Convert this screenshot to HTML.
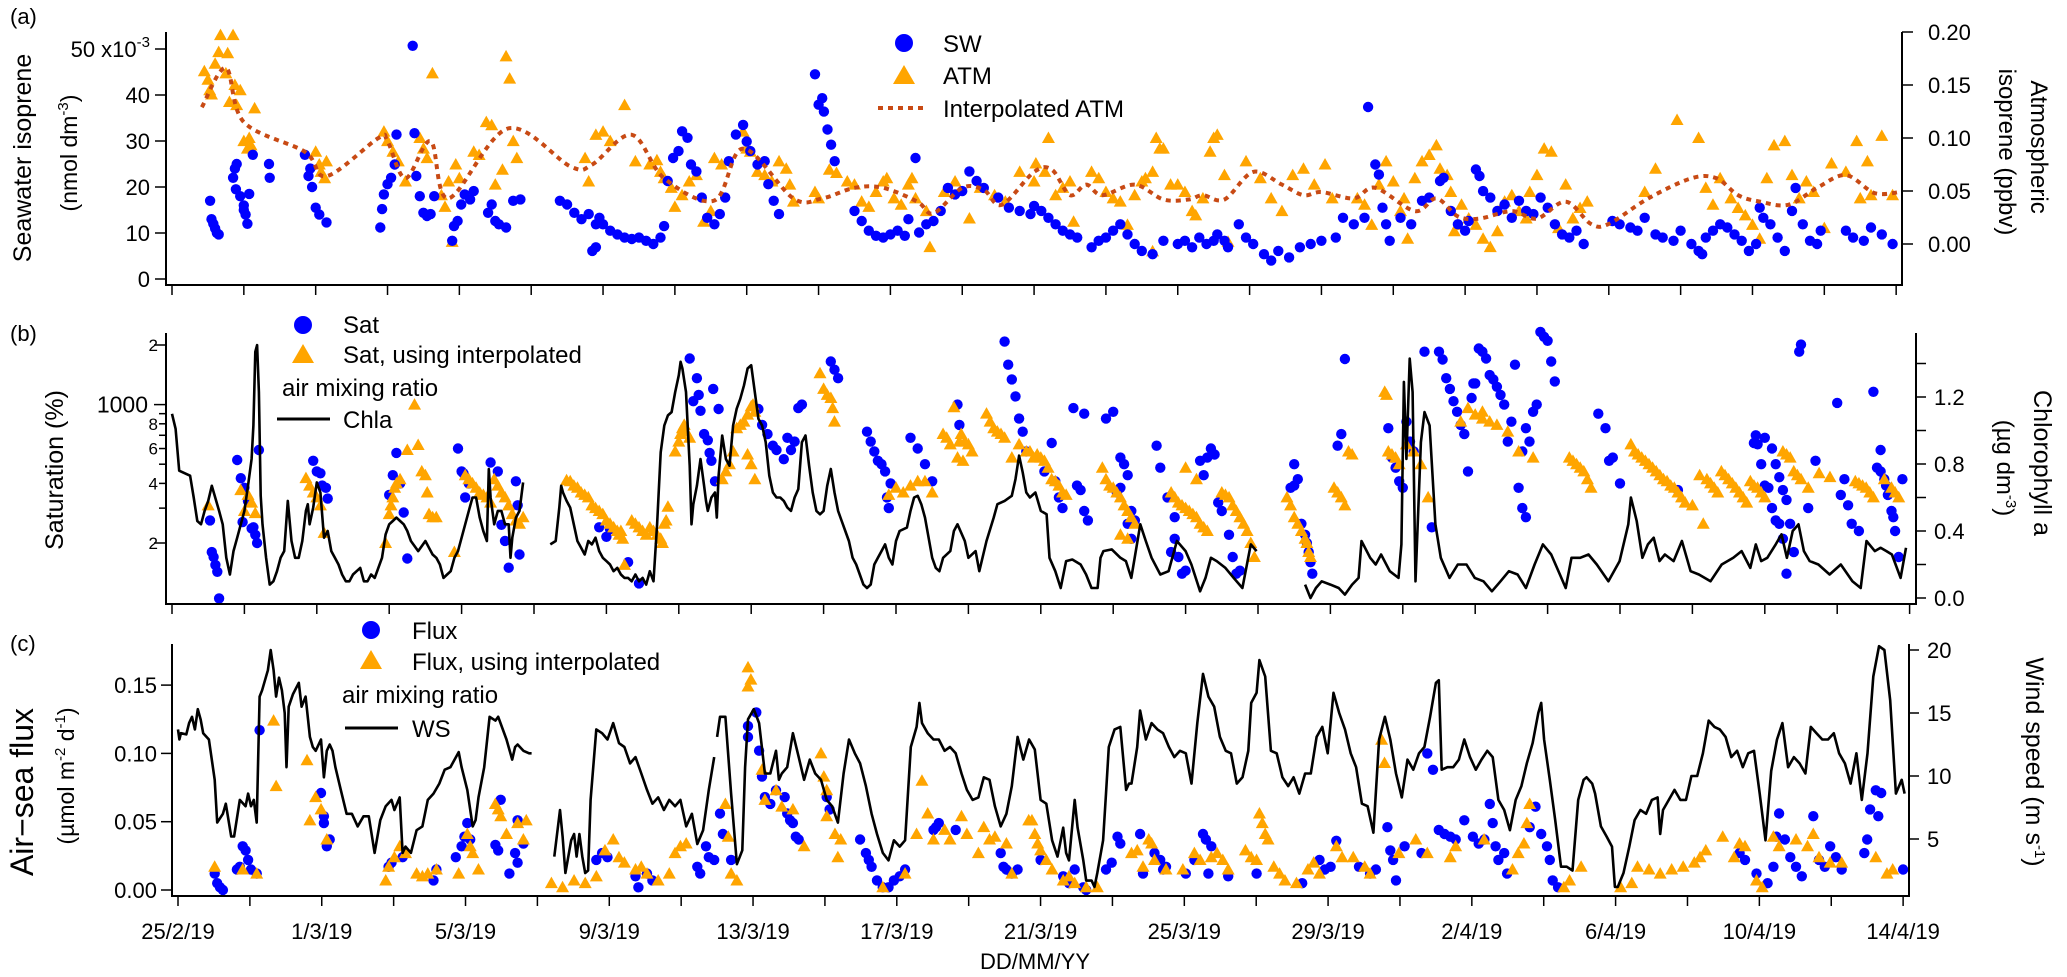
<!DOCTYPE html>
<html><head><meta charset="utf-8"><title>Isoprene time series</title>
<style>
html,body{margin:0;padding:0;background:#fff;}
svg{display:block;font-family:"Liberation Sans",Arial,sans-serif;}
</style></head>
<body>
<svg id="chart" width="2067" height="977" viewBox="0 0 2067 977" xmlns="http://www.w3.org/2000/svg">
<defs>
<clipPath id="clipA"><rect x="166" y="28" width="1736" height="257"/></clipPath>
<clipPath id="clipB"><rect x="166" y="318" width="1750" height="286"/></clipPath>
<clipPath id="clipC"><rect x="172" y="640" width="1737" height="256"/></clipPath>
</defs>
<g id="static" fill="#000" font-size="21">
<text x="10" y="24" font-size="22">(a)</text>
<text x="10" y="341" font-size="22">(b)</text>
<text x="10" y="651" font-size="22">(c)</text>

<text transform="translate(31,158) rotate(-90)" text-anchor="middle" font-size="25">Seawater isoprene</text>
<text transform="translate(77,153) rotate(-90)" text-anchor="middle" font-size="23">(nmol dm<tspan font-size="15" dy="-9">-3</tspan><tspan dy="9">)</tspan></text>
<text transform="translate(2031,147) rotate(90)" text-anchor="middle" font-size="24">Atmospheric</text>
<text transform="translate(1999,152) rotate(90)" text-anchor="middle" font-size="24">isoprene (ppbv)</text>

<text transform="translate(63,470) rotate(-90)" text-anchor="middle" font-size="25">Saturation (%)</text>
<text transform="translate(2034,463) rotate(90)" text-anchor="middle" font-size="25">Chlorophyll a</text>
<text transform="translate(1997,468) rotate(90)" text-anchor="middle" font-size="24">(µg dm<tspan font-size="15" dy="-9">-3</tspan><tspan dy="9">)</tspan></text>

<text transform="translate(33,792) rotate(-90)" text-anchor="middle" font-size="32">Air−sea flux</text>
<text transform="translate(74,776) rotate(-90)" text-anchor="middle" font-size="23">(µmol m<tspan font-size="15" dy="-9">-2</tspan><tspan dy="9"> d</tspan><tspan font-size="15" dy="-9">-1</tspan><tspan dy="9">)</tspan></text>
<text transform="translate(2026,762) rotate(90)" text-anchor="middle" font-size="25">Wind speed (m s<tspan font-size="15" dy="-9">-1</tspan><tspan dy="9">)</tspan></text>

<text x="1035" y="969" text-anchor="middle" font-size="22">DD/MM/YY</text>

<g font-size="24">
<circle cx="904" cy="43" r="9" fill="#0000ff"/>
<text x="943" y="52">SW</text>
<polygon points="904,65 915,84 893,84" fill="#ffa500"/>
<text x="943" y="84">ATM</text>
<line x1="878" y1="108" x2="928" y2="108" stroke="#c84a14" stroke-width="4" stroke-dasharray="5,5"/>
<text x="943" y="117">Interpolated ATM</text>
</g>
<g font-size="24">
<circle cx="303" cy="325" r="9" fill="#0000ff"/>
<text x="343" y="333">Sat</text>
<polygon points="303,344 314,363 292,363" fill="#ffa500"/>
<text x="343" y="363">Sat, using interpolated</text>
<text x="282" y="396">air mixing ratio</text>
<line x1="277" y1="419" x2="330" y2="419" stroke="#000" stroke-width="3"/>
<text x="343" y="428">Chla</text>
</g>
<g font-size="24">
<circle cx="371" cy="630" r="9" fill="#0000ff"/>
<text x="412" y="639">Flux</text>
<polygon points="371,650 382,669 360,669" fill="#ffa500"/>
<text x="412" y="670">Flux, using interpolated</text>
<text x="342" y="703">air mixing ratio</text>
<line x1="345" y1="728" x2="398" y2="728" stroke="#000" stroke-width="3"/>
<text x="412" y="737">WS</text>
</g>
</g>
<g id="dyn"></g>
</svg>
<script>
// ---------- Panel (a) data ----------
const swPoints = [[1.06,17],[1.1,13],[1.15,12],[1.2,11],[1.25,10],[1.3,9.7],[1.7,22],[1.75,24],[1.8,25],[1.78,19.5],[1.9,18],[2.0,16],[2.05,14],[2.1,12],[2.15,18.5],[2.25,27],[2.0,15],[2.7,25],[2.72,22],[3.7,27],[3.85,24],[3.9,20],[4.0,15.5],[4.1,14],[4.3,12.3],[3.8,22.4],[5.8,11.2],[5.85,15.2],[5.9,18.4],[6.0,20.6],[6.1,22],[6.2,24.9],[6.25,31.4],[6.7,50.7],[6.75,31.7],[6.8,22.4],[6.9,18],[7.0,14.4],[7.1,13.7],[7.2,14.1],[7.3,18],[7.8,8.3],[7.85,11.5],[7.95,12.6],[8.05,16.2],[8.15,18.4],[8.3,17.3],[8.4,19.1],[8.8,14.4],[8.9,16.2],[9.0,12.6],[9.1,11.9],[9.3,11.2],[9.5,17],[9.7,17.3],[10.8,17],[11.0,16.2],[11.2,14.4],[11.4,13],[11.6,14.1],[11.8,11.9],[11.9,13.3],[12.0,11.9],[12.2,10.5],[12.4,9.7],[12.6,9.0],[12.8,8.7],[13.0,9.0],[13.2,8.3],[13.4,7.6],[13.6,9.0],[13.7,11.5],[11.7,6.1],[11.8,6.9],[13.8,21.3],[13.95,26.3],[14.1,27.8],[14.2,32.1],[14.35,30.7],[14.45,24.9],[14.6,23.4],[14.75,17.7],[14.9,13.3],[15.1,11.9],[15.25,14.1],[15.4,17.7],[15.5,25.6],[15.7,31.4],[15.9,33.5],[16.0,29.9],[16.1,27.8],[16.3,24.9],[16.5,25.6],[16.6,20.6],[16.75,17],[16.9,14.1],[17.9,44.5],[18.0,37.9],[18.1,39.3],[18.15,36.4],[18.25,32.5],[18.35,29.2],[18.45,25.6],[19.0,14.8],[19.2,12.6],[19.4,10.5],[19.6,9.4],[19.8,9.0],[20.0,9.7],[20.2,10.5],[20.4,9.4],[20.5,13],[20.7,26.3],[20.8,10.1],[21.0,11.9],[21.2,12.6],[21.4,14.8],[21.6,19.8],[21.8,18.4],[22.0,19.1],[22.2,23.4],[22.4,21.3],[22.6,19.8],[23.0,17.7],[23.3,15.5],[23.6,14.8],[23.9,14.1],[24.0,15.9],[24.2,14.8],[24.4,13.3],[24.6,11.9],[24.8,10.5],[25.0,9.7],[25.2,9.0],[25.6,6.9],[25.8,8.3],[26.0,9.0],[26.2,10.5],[26.4,11.9],[26.6,9.7],[26.8,7.6],[27.0,6.1],[27.3,5.4],[27.6,8.3],[28.0,7.6],[28.2,8.3],[28.4,6.9],[28.6,9.0],[28.8,7.6],[29.0,8.3],[29.1,9.7],[29.3,8.3],[29.4,6.9],[29.7,11.9],[29.9,9.0],[30.1,7.6],[30.4,5.4],[30.6,4.0],[30.8,6.1],[31.1,4.7],[31.4,6.9],[31.7,7.6],[32.0,8.3],[32.4,9.0],[32.6,13.3],[32.9,11.9],[33.2,13.3],[33.3,37.4],[33.5,24.9],[33.6,22.7],[33.7,15.5],[33.8,11.9],[33.9,8.3],[34.2,13.3],[34.5,11.9],[34.8,17],[35.0,17.7],[35.3,21.3],[35.4,22],[35.6,14.8],[35.8,11.9],[36.0,10.5],[36.1,12.6],[36.3,23.8],[36.4,22.4],[36.5,19.1],[36.7,17.7],[36.9,14.8],[37.1,16.2],[37.3,13.3],[37.5,17],[37.7,14.8],[37.9,14.1],[38.1,17.7],[38.3,15.5],[38.5,11.9],[38.7,9.7],[38.9,9.0],[39.1,10.5],[39.3,7.6],[40.1,12.6],[40.3,11.9],[40.6,11.2],[40.8,10.5],[41.0,13.3],[41.3,9.7],[41.5,9.0],[41.8,8.3],[42.0,10.5],[42.3,7.6],[42.5,6.1],[42.6,5.4],[42.7,9.0],[42.9,10.5],[43.1,11.9],[43.3,11.2],[43.5,9.7],[43.7,8.3],[43.9,6.1],[44.1,7.6],[44.2,15.5],[44.3,13.3],[44.5,11.9],[44.7,9.0],[44.9,6.1],[45.1,14.8],[45.2,19.8],[45.4,11.9],[45.6,8.3],[45.8,7.6],[45.9,10.5],[46.6,10.5],[46.8,9.0],[47.1,8.3],[47.3,11.2],[47.6,9.7],[47.9,7.6]];
const atmPoints = [[0.9,.163],[1.0,.155],[1.05,.145],[1.1,.141],[1.2,.170],[1.3,.181],[1.35,.197],[1.5,.161],[1.55,.180],[1.6,.134],[1.7,.197],[1.75,.150],[1.8,.131],[1.9,.145],[2.0,.097],[2.1,.090],[2.15,.100],[2.2,.093],[2.3,.128],[4.0,.087],[4.1,.075],[4.15,.068],[4.25,.062],[4.3,.078],[5.9,.106],[6.0,.097],[6.15,.087],[6.3,.078],[6.5,.059],[6.9,.100],[7.0,.090],[7.1,.081],[7.25,.161],[7.5,.046],[7.6,.035],[7.7,.059],[7.8,.002],[7.9,.075],[8.0,.062],[8.4,.087],[8.55,.084],[8.75,.115],[8.9,.112],[9.0,.056],[9.2,.070],[9.3,.177],[9.4,.156],[9.5,.097],[9.6,.081],[11.5,.081],[11.6,.059],[11.8,.103],[12.0,.106],[12.2,.097],[12.6,.131],[12.9,.078],[13.3,.075],[13.5,.079],[13.6,.068],[13.7,.062],[13.9,.053],[14.0,.035],[14.2,.046],[14.4,.059],[14.6,.065],[14.8,.021],[15.0,.031],[15.1,.081],[15.3,.075],[15.9,.106],[16.0,.090],[16.1,.087],[16.3,.068],[16.5,.065],[16.7,.059],[16.9,.078],[17.1,.071],[17.2,.056],[17.3,.040],[17.9,.049],[18.0,.043],[18.3,.070],[18.5,.067],[18.8,.059],[19.0,.056],[19.2,.040],[19.4,.035],[19.6,.049],[19.8,.059],[19.9,.062],[20.1,.043],[20.3,.037],[20.5,.056],[20.6,.062],[20.7,.043],[21.0,.031],[21.1,-.003],[21.5,.049],[21.8,.059],[22.2,.024],[22.5,.053],[22.9,.046],[23.2,.040],[23.6,.068],[24.0,.059],[24.05,.076],[24.3,.068],[24.4,.100],[24.6,.046],[24.8,.053],[25.0,.059],[25.1,.021],[25.6,.068],[25.8,.062],[26.0,.049],[26.2,.043],[26.4,.040],[26.6,.018],[26.8,.046],[27.0,.059],[27.1,.062],[27.3,.068],[27.4,.100],[27.5,.090],[27.6,.090],[27.3,-.007],[27.8,.056],[28.0,.056],[28.2,.049],[28.4,.031],[28.5,.027],[28.7,.043],[28.9,.087],[29.0,.100],[29.1,.103],[29.3,.065],[29.4,.002],[29.9,.078],[30.3,.062],[30.6,.043],[30.9,.031],[31.2,.065],[31.5,.071],[31.8,.056],[32.1,.075],[32.3,.043],[33.0,.043],[33.2,.037],[33.4,.018],[33.6,.056],[33.8,.078],[34.0,.059],[34.2,.031],[34.3,.043],[34.4,.005],[34.6,.062],[34.8,.078],[35.0,.084],[35.2,.093],[35.3,.071],[35.5,.065],[35.6,.049],[35.7,.012],[35.8,.018],[35.9,.037],[36.1,.024],[36.3,.018],[36.5,.005],[36.7,-.003],[36.9,.012],[37.1,.040],[37.3,.046],[37.5,.031],[37.7,.024],[37.8,.049],[38.0,.065],[38.2,.090],[38.4,.087],[38.6,.015],[38.8,.056],[39.0,.024],[39.2,.034],[39.4,.040],[41.0,.049],[41.3,.071],[41.9,.117],[42.5,.100],[42.7,.053],[42.9,.037],[43.1,.062],[43.4,.043],[43.6,.034],[43.8,.027],[44.0,.018],[44.2,.005],[44.4,.062],[44.6,.093],[44.9,.097],[45.1,.065],[45.3,.043],[45.5,.059],[45.7,.049],[46.0,.015],[46.2,.076],[46.6,.068],[46.9,.097],[47.0,.043],[47.2,.078],[47.3,.046],[47.6,.102],[47.9,.046]];
const interpPoints = [[0.83,.129],[1.5,.166],[2.0,.115],[3.7,.087],[4.3,.064],[5.75,.100],[6.0,.097],[6.5,.062],[7.2,.097],[7.7,.043],[9.35,.109],[11.1,.073],[11.7,.075],[12.8,.103],[13.7,.062],[15.1,.041],[15.9,.090],[17.3,.043],[18.1,.043],[19.0,.053],[19.8,.053],[20.75,.040],[21.2,.029],[22.0,.053],[22.6,.051],[23.1,.037],[24.0,.068],[24.5,.070],[25.0,.046],[25.45,.056],[25.9,.046],[26.8,.056],[27.6,.042],[28.3,.042],[28.7,.046],[29.3,.042],[30.1,.068],[30.9,.056],[31.5,.046],[32.0,.049],[32.9,.043],[33.5,.053],[34.6,.031],[35.2,.043],[35.8,.026],[36.4,.024],[37.3,.031],[38.0,.024],[38.8,.040],[39.5,.019],[40.0,.019],[41.1,.043],[42.3,.062],[43.0,.062],[43.6,.046],[44.2,.040],[45.0,.037],[45.8,.053],[46.6,.065],[47.4,.048],[48.1,.049]];
const swTicks = [0,10,20,30,40,50];
const atmTicks = [0,0.05,0.10,0.15,0.20];
const atmTickLabels = ["0.00","0.05","0.10","0.15","0.20"];

// ---------- Panel (b) data ----------
const satPoints = [[1.05,260],[1.1,180],[1.15,170],[1.2,155],[1.25,143],[1.3,105],[1.8,525],[1.9,425],[2.0,380],[2.1,325],[1.95,255],[2.2,237],[2.25,240],[2.3,220],[2.35,200],[2.4,590],[3.9,520],[4.0,460],[4.1,450],[4.15,390],[4.25,380],[4.3,335],[6.0,350],[6.1,440],[6.2,570],[6.3,400],[6.4,285],[6.5,167],[7.9,600],[8.0,460],[8.05,450],[8.1,340],[8.2,400],[8.8,510],[9.0,460],[9.1,247],[9.2,205],[9.3,150],[9.5,410],[9.55,310],[9.6,175],[11.8,240],[12.0,215],[12.1,235],[12.6,160],[12.9,125],[14.3,1710],[14.5,1360],[14.55,1120],[14.4,1040],[14.6,930],[14.7,710],[14.8,660],[14.85,570],[14.9,520],[15.0,410],[14.95,1200],[15.1,950],[16.2,950],[16.3,790],[16.45,710],[16.6,620],[16.7,590],[16.9,530],[17.0,680],[17.1,590],[17.2,650],[17.3,960],[17.4,1000],[18.2,1650],[18.3,1500],[18.4,1360],[19.2,730],[19.3,650],[19.4,580],[19.5,520],[19.6,500],[19.7,460],[19.75,340],[19.8,300],[19.85,400],[20.4,680],[20.6,600],[20.8,500],[21.0,410],[21.7,1000],[21.75,790],[23.0,2080],[23.1,1590],[23.2,1340],[23.3,1100],[23.4,850],[23.5,730],[23.6,580],[24.1,460],[24.3,640],[24.4,410],[24.5,340],[24.6,300],[24.9,960],[25.2,900],[25.0,390],[25.1,370],[25.2,290],[25.3,260],[25.8,850],[26.0,920],[26.2,540],[26.3,500],[26.4,440],[26.5,290],[26.6,260],[26.4,250],[26.5,210],[26.1,360],[26.2,380],[27.2,620],[27.3,480],[27.5,340],[27.7,270],[27.8,170],[27.9,140],[28.0,145],[27.6,180],[27.7,210],[28.4,520],[28.5,440],[28.6,540],[28.7,600],[28.8,560],[28.9,320],[29.0,290],[29.2,220],[29.3,170],[29.4,140],[29.5,145],[30.9,380],[31.0,500],[31.1,420],[31.2,250],[31.3,220],[31.35,200],[31.4,180],[31.45,160],[31.5,140],[31.0,390],[32.2,620],[32.3,710],[32.4,1700],[33.6,760],[33.7,540],[33.8,480],[33.9,410],[34.0,380],[34.1,820],[34.2,650],[34.3,580],[34.6,1850],[35.0,1850],[35.1,1690],[35.2,1360],[35.3,1200],[35.4,1040],[35.5,920],[35.6,790],[35.7,710],[35.8,460],[35.9,1080],[35.95,1280],[36.0,1280],[34.8,240],[36.1,1920],[36.2,1850],[36.3,1710],[36.4,1410],[36.5,1340],[36.6,1230],[36.7,1120],[36.8,1000],[36.9,650],[37.0,820],[37.1,1590],[37.8,2330],[37.9,2200],[38.0,2100],[38.1,1650],[38.2,1310],[37.7,1000],[37.6,920],[37.5,650],[37.4,760],[37.3,580],[37.2,380],[37.3,300],[37.4,270],[39.4,900],[39.6,760],[39.7,520],[39.8,540],[40.0,400],[41.6,370],[43.7,640],[43.8,630],[43.9,500],[44.0,390],[44.1,380],[44.2,300],[44.3,260],[44.4,250],[44.5,210],[44.6,140],[43.75,700],[44.0,680],[44.2,600],[44.3,500],[44.4,430],[44.5,370],[44.6,330],[44.7,250],[44.8,180],[44.95,1850],[45.0,2010],[45.2,300],[45.4,520],[46.0,1020],[46.1,350],[46.2,420],[46.3,310],[46.4,250],[46.6,230],[47.0,1160],[47.1,480],[47.2,460],[47.3,420],[47.35,390],[47.4,350],[47.5,290],[47.55,270],[47.6,230],[47.7,170],[47.2,590],[47.8,420]];
const satInterpPoints = [[1.0,310],[1.9,370],[2.0,290],[2.1,350],[2.2,320],[2.3,283],[3.7,425],[3.8,390],[3.9,360],[4.0,340],[4.1,310],[4.2,225],[5.9,200],[6.0,280],[6.05,310],[6.1,340],[6.15,380],[6.2,400],[6.3,420],[6.5,590],[6.8,625],[6.9,460],[7.0,440],[7.05,360],[7.1,280],[7.2,270],[7.3,270],[6.7,1000],[7.8,180],[8.1,440],[8.2,420],[8.3,400],[8.4,380],[8.5,360],[8.6,350],[8.7,340],[8.8,320],[8.9,420],[9.0,390],[9.1,360],[9.2,340],[9.3,310],[9.4,280],[9.5,260],[9.6,250],[9.7,270],[10.9,415],[11.0,410],[11.1,390],[11.2,380],[11.3,360],[11.4,350],[11.5,340],[11.6,310],[11.7,300],[11.8,290],[11.9,280],[12.0,260],[12.1,250],[12.2,240],[12.3,230],[12.35,220],[12.4,230],[12.45,210],[12.5,155],[12.7,260],[12.8,250],[12.9,240],[13.0,230],[13.1,220],[13.2,240],[13.3,230],[13.4,220],[13.5,210],[13.55,200],[13.6,250],[13.65,260],[13.7,305],[13.9,580],[14.0,650],[14.05,710],[14.1,760],[14.15,790],[14.2,730],[14.3,680],[15.2,420],[15.3,460],[15.4,500],[15.5,580],[15.6,760],[15.7,790],[15.8,820],[15.9,890],[16.0,980],[16.05,1000],[16.1,920],[15.9,560],[16.0,500],[16.1,420],[17.9,1440],[18.0,1200],[18.1,1120],[18.2,1080],[18.25,960],[18.3,820],[19.8,350],[20.0,380],[20.2,360],[20.4,390],[20.6,410],[20.8,410],[21.0,360],[21.6,970],[21.8,710],[21.9,650],[22.0,630],[22.1,580],[21.3,710],[21.4,680],[21.5,630],[21.7,540],[21.75,650],[21.85,520],[22.5,900],[22.6,820],[22.7,760],[22.8,730],[22.9,710],[23.0,680],[23.2,540],[23.4,630],[23.6,580],[23.8,540],[23.7,580],[23.9,560],[24.0,540],[24.1,520],[24.2,480],[24.3,420],[24.4,410],[24.5,390],[24.6,360],[24.7,350],[25.7,480],[25.8,420],[25.9,390],[26.0,380],[26.1,360],[26.2,340],[26.3,310],[26.4,290],[26.5,270],[26.6,250],[26.2,220],[26.4,210],[27.6,360],[27.7,340],[27.8,320],[27.9,310],[28.0,300],[28.1,290],[28.2,280],[28.3,270],[28.4,250],[28.5,240],[28.6,230],[28.0,480],[28.3,420],[29.0,360],[29.1,350],[29.2,340],[29.3,310],[29.4,290],[29.5,270],[29.6,250],[29.7,230],[29.8,200],[29.9,170],[30.8,340],[30.9,310],[31.0,270],[31.1,250],[31.2,230],[31.3,210],[31.35,200],[31.4,180],[31.45,170],[32.1,380],[32.2,360],[32.3,340],[32.4,310],[32.5,580],[32.6,560],[33.6,580],[33.7,560],[33.8,540],[33.9,500],[33.5,1160],[33.55,1120],[34.1,630],[34.3,580],[34.5,500],[34.7,340],[35.6,820],[35.8,960],[36.0,890],[36.2,850],[36.4,820],[36.6,790],[36.2,920],[36.9,730],[37.2,580],[37.6,540],[38.6,540],[38.7,520],[38.8,500],[38.9,480],[39.0,460],[39.1,420],[39.2,380],[40.3,630],[40.4,580],[40.5,560],[40.6,540],[40.7,520],[40.8,500],[40.9,480],[41.0,460],[41.1,440],[41.2,420],[41.3,410],[41.4,390],[41.5,380],[41.6,360],[41.7,340],[41.8,320],[42.0,310],[42.3,250],[42.5,400],[42.4,420],[42.2,440],[42.6,380],[42.7,360],[42.8,460],[42.9,440],[43.0,420],[43.1,400],[43.2,380],[43.3,360],[43.4,340],[43.5,320],[43.6,410],[43.7,390],[43.8,380],[43.9,360],[44.0,340],[44.5,580],[44.6,560],[44.7,540],[44.8,460],[44.9,440],[45.0,420],[45.2,380],[45.5,450],[45.8,430],[46.5,410],[46.6,400],[46.7,390],[46.8,380],[46.9,360],[47.0,340],[47.3,420],[47.5,380],[47.6,360],[47.7,340]];
const chlaSegments = [
 [[0,1.10],[0.1,1.01],[0.2,0.76],[0.4,0.74],[0.5,0.73],[0.6,0.60],[0.7,0.46],[0.8,0.44],[0.9,0.52],[1.0,0.58],[1.1,0.67],[1.3,0.52],[1.4,0.44],[1.5,0.24],[1.6,0.14],[1.7,0.28],[1.8,0.36],[1.9,0.44],[2.0,0.52],[2.1,0.67],[2.2,0.83],[2.25,1.03],[2.3,1.47],[2.35,1.51],[2.4,1.23],[2.45,0.61],[2.5,0.44],[2.6,0.24],[2.7,0.08],[2.8,0.10],[2.9,0.16],[3.0,0.24],[3.1,0.28],[3.2,0.58],[3.3,0.34],[3.4,0.24],[3.5,0.24],[3.6,0.34],[3.7,0.52],[3.75,0.56],[3.8,0.44],[3.9,0.54],[4.0,0.69],[4.1,0.63],[4.2,0.36],[4.3,0.40],[4.4,0.28],[4.5,0.24],[4.6,0.20],[4.7,0.14],[4.8,0.10],[4.9,0.10],[5.0,0.14],[5.1,0.16],[5.2,0.18],[5.3,0.10],[5.4,0.10],[5.5,0.14],[5.6,0.12],[5.8,0.24],[5.9,0.38],[6.0,0.44],[6.1,0.46],[6.2,0.48],[6.3,0.46],[6.4,0.44],[6.5,0.40],[6.6,0.34],[6.8,0.28],[7.0,0.34],[7.1,0.30],[7.2,0.26],[7.3,0.24],[7.4,0.20],[7.5,0.12],[7.6,0.14],[7.7,0.16],[7.8,0.24],[7.9,0.28],[8.0,0.36],[8.1,0.44],[8.2,0.52],[8.3,0.60],[8.4,0.60],[8.5,0.48],[8.6,0.40],[8.7,0.34],[8.75,0.77],[8.8,0.60],[8.9,0.44],[9.0,0.52],[9.1,0.52],[9.2,0.44],[9.3,0.44],[9.35,0.24],[9.4,0.36],[9.5,0.48],[9.6,0.52],[9.7,0.69]],
 [[10.45,0.32],[10.6,0.34],[10.7,0.54],[10.75,0.67],[10.8,0.63],[10.9,0.58],[11.0,0.54],[11.1,0.44],[11.2,0.34],[11.3,0.30],[11.4,0.26],[11.5,0.34],[11.6,0.32],[11.7,0.36],[11.8,0.28],[11.9,0.24],[12.0,0.22],[12.1,0.20],[12.2,0.16],[12.3,0.18],[12.4,0.14],[12.5,0.12],[12.6,0.12],[12.7,0.10],[12.8,0.14],[12.9,0.10],[13.0,0.12],[13.1,0.08],[13.2,0.16],[13.3,0.10],[13.4,0.44],[13.5,0.87],[13.6,1.03],[13.7,1.09],[13.8,1.11],[13.9,1.23],[14.0,1.33],[14.05,1.41],[14.1,1.37],[14.2,1.23],[14.3,0.79],[14.35,0.44],[14.4,0.56],[14.5,0.67],[14.6,0.83],[14.7,0.67],[14.75,0.58],[14.8,0.52],[14.9,0.60],[15.0,0.63],[15.05,0.48],[15.1,0.73],[15.2,0.97],[15.3,0.83],[15.4,0.79],[15.5,1.03],[15.6,1.13],[15.7,1.19],[15.8,1.27],[15.9,1.37],[16.0,1.39],[16.1,1.23],[16.2,1.07],[16.3,1.03],[16.4,0.93],[16.5,0.73],[16.6,0.63],[16.7,0.60],[16.8,0.60],[16.9,0.58],[17.0,0.54],[17.1,0.52],[17.2,0.60],[17.3,0.65],[17.4,0.93],[17.5,0.97],[17.6,0.79],[17.7,0.63],[17.8,0.52],[17.9,0.50],[18.0,0.52],[18.1,0.67],[18.2,0.77],[18.3,0.63],[18.4,0.52],[18.5,0.46],[18.6,0.40],[18.7,0.34],[18.8,0.24],[18.9,0.20],[19.0,0.14],[19.1,0.08],[19.2,0.06],[19.3,0.08],[19.4,0.20],[19.5,0.24],[19.6,0.28],[19.7,0.32],[19.8,0.24],[19.9,0.20],[20.0,0.34],[20.1,0.40],[20.3,0.42],[20.4,0.52],[20.5,0.60],[20.6,0.61],[20.7,0.56],[20.8,0.48],[20.9,0.36],[21.0,0.24],[21.1,0.18],[21.2,0.16],[21.3,0.24],[21.5,0.28],[21.6,0.40],[21.7,0.44],[21.9,0.34],[22.0,0.24],[22.2,0.28],[22.3,0.16],[22.5,0.34],[22.7,0.48],[22.8,0.56],[23.0,0.58],[23.2,0.61],[23.3,0.71],[23.4,0.85],[23.5,0.75],[23.6,0.63],[23.7,0.60],[23.85,0.63],[24.0,0.52],[24.16,0.50],[24.24,0.24],[24.4,0.16],[24.55,0.06],[24.7,0.22],[24.87,0.23],[25.1,0.20],[25.25,0.14],[25.4,0.06],[25.57,0.06],[25.65,0.24],[25.73,0.28],[25.96,0.29],[26.2,0.24],[26.35,0.22],[26.5,0.12],[26.75,0.44],[26.9,0.34],[27.06,0.24],[27.3,0.14],[27.53,0.16],[27.76,0.34],[28.0,0.28],[28.16,0.20],[28.4,0.04],[28.55,0.12],[28.7,0.24],[28.86,0.22],[29.1,0.18],[29.33,0.12],[29.57,0.06],[29.8,0.32],[29.96,0.28]],
 [[31.3,0.08],[31.45,0.0],[31.6,0.06],[31.76,0.10],[32.0,0.08],[32.23,0.06],[32.4,0.02],[32.6,0.08],[32.78,0.12],[32.86,0.34],[33.1,0.24],[33.25,0.20],[33.4,0.26],[33.64,0.16],[33.88,0.12],[33.96,0.32],[34.03,1.29],[34.1,0.83],[34.19,1.43],[34.27,1.23],[34.35,0.10],[34.5,0.93],[34.6,1.11],[34.74,1.03],[34.9,0.44],[35.05,0.24],[35.29,0.12],[35.52,0.20],[35.76,0.20],[35.99,0.12],[36.23,0.10],[36.46,0.04],[36.7,0.10],[36.93,0.16],[37.17,0.14],[37.4,0.06],[37.64,0.20],[37.87,0.32],[38.1,0.26],[38.34,0.14],[38.5,0.06],[38.66,0.24],[38.9,0.24],[39.13,0.26],[39.36,0.20],[39.68,0.10],[39.99,0.22],[40.23,0.44],[40.3,0.60],[40.46,0.46],[40.62,0.24],[40.77,0.32],[40.93,0.36],[41.09,0.22],[41.24,0.26],[41.48,0.22],[41.71,0.34],[41.95,0.16],[42.18,0.14],[42.5,0.10],[42.81,0.20],[43.13,0.24],[43.36,0.28],[43.6,0.18],[43.75,0.32],[43.9,0.22],[44.07,0.24],[44.3,0.32],[44.46,0.38],[44.61,0.24],[44.77,0.40],[44.93,0.44],[45.08,0.28],[45.24,0.22],[45.48,0.20],[45.79,0.14],[46.1,0.20],[46.42,0.10],[46.65,0.06],[46.81,0.34],[47.04,0.28],[47.2,0.30],[47.36,0.28],[47.51,0.26],[47.75,0.12],[47.9,0.30]]
];
const satMajorTicks = [200,1000,2000];
const satMajorLabels = ["2","1000","2"];
const satMinorTicks = [300,400,500,600,700,800,900];
const satMinorLabels = ["","4","","6","","8",""];
const chlaTicks = [0,0.2,0.4,0.6,0.8,1.0,1.2,1.4];
const chlaTickLabels = ["0.0","","0.4","","0.8","","1.2",""];

// ---------- Panel (c) data ----------
const fluxPoints = [[1.02,.012],[1.09,.005],[1.17,.002],[1.25,0],[1.64,.015],[1.72,.017],[1.8,.032],[1.88,.029],[1.95,.022],[2.03,.015],[2.19,.012],[2.27,.117],[3.98,.071],[4.06,.054],[4.06,.049],[4.14,.032],[4.22,.037],[5.86,.017],[5.94,.020],[6.25,.024],[7.11,.007],[7.19,.015],[7.73,.024],[7.89,.032],[7.97,.039],[8.05,.049],[8.13,.037],[8.83,.033],[8.91,.029],[8.98,.066],[9.45,.051],[9.38,.027],[9.45,.020],[9.22,.012],[9.61,.034],[11.64,.022],[11.8,.027],[11.95,.024],[12.73,.010],[12.81,.002],[13.05,.012],[13.2,.007],[14.45,.017],[14.53,.012],[14.77,.024],[14.92,.022],[14.69,.032],[15.08,.056],[15.16,.041],[15.39,.022],[15.86,.120],[15.86,.112],[16.09,.130],[16.17,.102],[16.25,.083],[16.33,.068],[16.48,.063],[16.64,.073],[16.88,.068],[16.95,.056],[17.03,.051],[17.11,.049],[17.19,.039],[17.27,.037],[18.05,.068],[18.13,.059],[18.98,.037],[19.14,.027],[19.22,.022],[19.3,.017],[19.45,.007],[19.61,.002],[19.77,.002],[19.92,.007],[20.08,.010],[20.23,.015],[21.02,.044],[21.09,.046],[21.17,.049],[21.64,.044],[22.89,.027],[22.97,.017],[23.05,.015],[23.2,.012],[23.36,.015],[24.0,.022],[24.63,.010],[24.79,.005],[24.95,.015],[25.19,.002],[25.27,0],[25.82,.015],[25.98,.020],[26.14,.039],[26.22,.034],[26.77,.041],[26.85,.012],[27.17,.027],[27.33,.022],[27.41,.015],[27.49,.017],[28.04,.012],[28.28,.022],[28.52,.041],[28.6,.037],[28.67,.012],[28.75,.032],[29.22,.010],[30.01,.012],[31.28,.005],[31.76,.022],[31.91,.015],[32.07,.017],[32.23,.036],[32.86,.017],[33.17,.012],[33.33,.015],[33.65,.046],[33.73,.029],[33.81,.022],[33.89,.007],[34.13,.032],[34.6,.027],[34.76,.100],[34.92,.088],[35.08,.044],[35.24,.041],[35.4,.039],[35.55,.037],[35.79,.051],[36.03,.039],[36.19,.034],[36.35,.037],[36.5,.063],[36.58,.049],[36.66,.032],[36.74,.022],[36.9,.027],[36.98,.012],[37.61,.046],[37.77,.061],[37.93,.041],[38.09,.032],[38.17,.022],[38.25,.007],[38.4,.002],[43.45,.027],[43.6,.022],[43.92,.012],[44.23,.005],[44.39,.017],[44.47,.039],[44.55,.056],[44.71,.037],[44.86,.024],[45.02,.017],[45.18,.010],[45.5,.054],[45.66,.022],[45.82,.017],[45.97,.032],[46.13,.024],[46.29,.015],[46.92,.027],[47.0,.037],[47.08,.059],[47.24,.073],[47.39,.071],[47.31,.054],[48.0,.015]];
const fluxInterpPoints = [[1.02,.017],[1.8,.015],[2.19,.012],[2.66,.124],[2.73,.076],[3.59,.095],[3.83,.068],[3.67,.051],[3.98,.059],[4.14,.037],[5.78,.007],[5.86,.017],[6.02,.024],[6.17,.032],[6.33,.027],[6.64,.012],[6.8,.010],[6.95,.012],[7.19,.015],[7.81,.012],[8.05,.041],[8.13,.032],[8.2,.027],[8.36,.015],[8.83,.063],[8.91,.059],[8.98,.054],[9.14,.041],[9.45,.049],[9.61,.037],[9.69,.051],[10.39,.005],[10.7,.002],[11.02,.007],[11.33,.005],[11.64,.010],[11.88,.029],[12.11,.037],[12.27,.024],[12.42,.020],[12.73,.015],[12.89,.017],[13.05,.012],[13.36,.007],[13.67,.012],[13.83,.027],[13.98,.032],[14.14,.034],[15.23,.063],[15.31,.039],[15.39,.012],[15.55,.007],[15.86,.163],[15.94,.154],[15.86,.149],[16.25,.088],[16.33,.066],[16.64,.073],[16.8,.061],[17.11,.059],[17.42,.032],[17.89,.100],[17.97,.083],[18.05,.073],[18.05,.054],[18.28,.041],[18.36,.024],[18.44,.037],[19.61,.002],[20.23,.012],[20.55,.041],[20.7,.080],[20.86,.056],[21.02,.037],[21.33,.044],[21.48,.037],[21.8,.054],[21.95,.041],[22.27,.027],[22.42,.046],[22.58,.037],[22.73,.039],[23.05,.034],[23.2,.012],[23.67,.051],[23.76,.051],[23.84,.041],[23.92,.034],[24.0,.029],[24.16,.022],[24.32,.015],[24.63,.007],[24.79,.010],[24.95,.005],[25.27,.002],[25.58,.002],[26.53,.027],[26.69,.029],[26.85,.017],[27.01,.037],[27.09,.034],[27.17,.022],[27.49,.015],[27.96,.015],[28.28,.027],[28.44,.022],[28.75,.024],[28.91,.027],[29.07,.022],[29.22,.015],[29.7,.029],[29.86,.024],[30.01,.022],[30.09,.056],[30.17,.049],[30.25,.041],[30.33,.037],[30.49,.017],[30.65,.012],[30.8,.007],[31.12,.005],[31.44,.015],[31.6,.020],[31.76,.012],[32.23,.032],[32.39,.024],[32.7,.024],[33.02,.017],[33.17,.012],[33.49,.110],[33.57,.093],[33.97,.027],[34.44,.037],[34.76,.027],[35.4,.024],[35.55,.032],[36.34,.037],[37.13,.015],[37.29,.027],[37.45,.034],[37.53,.049],[37.61,.063],[38.56,.002],[38.72,.007],[39.04,.017],[40.14,.002],[40.45,.005],[40.61,.017],[40.93,.015],[41.24,.012],[41.56,.015],[41.88,.017],[42.19,.020],[42.35,.024],[42.51,.029],[42.98,.039],[43.3,.024],[43.45,.034],[43.6,.032],[43.92,.007],[44.08,.002],[44.39,.039],[44.55,.032],[45.02,.037],[45.34,.032],[45.5,.041],[45.66,.024],[45.97,.020],[46.29,.020],[47.24,.024],[47.55,.012],[47.71,.015]];
const wsSegments = [
 [[0,13.7],[0.04,12.9],[0.08,13.4],[0.23,13.3],[0.31,14.2],[0.39,14.7],[0.47,13.7],[0.55,15.3],[0.63,14.5],[0.7,13.4],[0.86,12.9],[1.02,9.7],[1.09,6.3],[1.25,7.0],[1.33,7.8],[1.48,5.2],[1.56,5.2],[1.72,8.1],[1.88,7.6],[1.95,8.6],[2.03,7.6],[2.11,8.1],[2.19,6.3],[2.27,16.3],[2.34,16.8],[2.5,18.4],[2.58,20.0],[2.66,18.4],[2.73,16.3],[2.81,17.8],[2.89,16.8],[2.97,15.0],[3.02,10.7],[3.08,15.5],[3.2,16.5],[3.36,17.4],[3.44,15.5],[3.55,16.3],[3.67,13.1],[3.75,12.3],[3.83,12.0],[3.98,12.9],[4.06,9.9],[4.14,12.0],[4.22,12.5],[4.3,12.0],[4.38,10.7],[4.53,8.9],[4.69,7.0],[4.84,7.0],[5.0,6.0],[5.16,6.8],[5.31,6.8],[5.47,3.9],[5.63,6.5],[5.78,7.6],[5.94,8.1],[6.02,7.3],[6.17,8.3],[6.25,3.9],[6.33,4.4],[6.48,3.9],[6.64,5.7],[6.8,6.0],[6.95,8.1],[7.11,8.6],[7.27,9.4],[7.42,10.5],[7.58,10.7],[7.81,11.9],[7.89,10.7],[8.05,8.9],[8.2,6.0],[8.28,6.5],[8.36,8.3],[8.52,10.7],[8.67,14.7],[8.83,14.4],[8.91,14.7],[9.14,12.9],[9.3,11.3],[9.38,12.3],[9.45,12.5],[9.61,12.0],[9.77,11.8],[9.84,11.8]],
 [[10.47,3.6],[10.63,7.3],[10.7,5.2],[10.78,2.3],[10.94,4.9],[11.02,5.4],[11.09,3.6],[11.17,5.4],[11.25,3.6],[11.33,2.3],[11.41,2.5],[11.48,8.1],[11.64,13.7],[11.8,13.4],[11.95,12.9],[12.11,14.2],[12.27,12.6],[12.42,12.3],[12.58,11.0],[12.73,11.5],[12.89,10.2],[13.05,8.9],[13.2,7.8],[13.36,8.3],[13.52,7.3],[13.67,8.1],[13.83,7.6],[13.98,8.1],[14.14,6.0],[14.3,7.0],[14.45,4.6],[14.61,5.7],[14.77,8.9],[14.92,11.5]],
 [[15.0,13.1],[15.08,14.7],[15.23,14.7],[15.39,8.6],[15.55,3.0],[15.7,4.1],[15.78,10.7],[15.86,14.5],[16.02,15.3],[16.17,14.2],[16.33,10.2],[16.48,10.2],[16.64,12.0],[16.72,9.7],[16.8,10.2],[16.95,10.7],[17.11,13.4],[17.27,11.5],[17.42,9.7],[17.58,11.3],[17.73,10.2],[17.89,9.7],[18.05,8.1],[18.2,7.6],[18.36,6.3],[18.52,10.2],[18.67,12.9],[18.83,11.8],[18.98,11.0],[19.14,9.2],[19.3,7.0],[19.45,5.4],[19.61,3.9],[19.77,3.3],[19.92,4.9],[20.08,4.4],[20.23,4.9],[20.39,12.3],[20.55,13.9],[20.63,15.8],[20.7,14.2],[20.86,13.4],[21.02,12.9],[21.17,12.9],[21.33,12.0],[21.48,12.3],[21.64,11.8],[21.8,10.2],[21.95,8.9],[22.11,8.1],[22.27,8.3],[22.42,9.9],[22.58,9.7],[22.73,7.6],[22.89,6.0],[23.05,7.0],[23.2,9.2],[23.36,13.1],[23.52,11.3],[23.68,12.9],[23.84,12.1],[24.0,8.1],[24.16,7.8],[24.32,4.9],[24.47,3.6],[24.63,5.9],[24.71,3.9],[24.79,3.3],[24.95,8.1],[25.03,5.9],[25.19,3.3],[25.27,1.7],[25.42,1.7],[25.5,1.2],[25.58,2.3],[25.74,4.9],[25.82,8.6],[25.9,12.3],[26.06,13.7],[26.22,13.9],[26.38,8.9],[26.46,9.4],[26.53,9.4],[26.69,12.3],[26.77,15.2],[26.93,12.9],[27.09,14.2],[27.25,13.7],[27.41,13.4],[27.57,12.3],[27.72,11.5],[27.88,12.0],[28.04,11.8],[28.2,9.4],[28.36,14.2],[28.52,18.1],[28.67,16.3],[28.83,15.5],[28.99,13.1],[29.15,12.0],[29.3,11.8],[29.46,9.4],[29.62,9.9],[29.78,12.0],[29.86,15.8],[30.01,16.6],[30.09,19.2],[30.25,17.9],[30.41,12.0],[30.57,11.8],[30.73,9.9],[30.89,9.2],[31.04,9.9],[31.2,8.6],[31.36,10.2],[31.52,10.2],[31.68,13.1],[31.84,13.9],[31.99,11.8],[32.15,16.6],[32.31,15.0],[32.47,13.7],[32.63,11.8],[32.78,10.7],[32.94,7.8],[33.1,7.6],[33.26,5.5],[33.42,12.9],[33.58,14.7],[33.73,12.9],[33.89,10.2],[34.05,8.3],[34.21,11.3],[34.37,10.5],[34.53,11.8],[34.68,12.3],[34.84,14.7],[35.0,17.4],[35.08,17.6],[35.16,10.5],[35.32,10.7],[35.48,10.7],[35.64,11.3],[35.79,12.9],[35.95,11.5],[36.11,10.5],[36.27,11.3],[36.43,12.0],[36.58,11.5],[36.74,8.1],[36.9,7.3],[37.06,5.7],[37.22,8.1],[37.38,9.2],[37.53,11.0],[37.69,12.6],[37.85,15.0],[37.93,15.8],[38.01,12.9],[38.17,9.7],[38.32,6.5],[38.48,2.8],[38.64,2.8],[38.8,2.5],[38.96,8.1],[39.11,9.7],[39.19,9.9],[39.35,9.4],[39.43,8.6],[39.59,6.0],[39.75,5.2],[39.9,4.4],[39.98,1.2],[40.06,1.2],[40.22,2.3],[40.38,4.4],[40.53,6.5],[40.69,7.3],[40.85,7.0],[41.01,8.1],[41.17,8.3],[41.24,5.4],[41.32,7.3],[41.48,8.1],[41.64,8.9],[41.8,8.1],[41.96,8.1],[42.11,10.0],[42.27,10.0],[42.43,11.8],[42.59,14.4],[42.75,13.9],[42.9,13.7],[43.06,13.1],[43.22,11.5],[43.38,12.0],[43.54,10.7],[43.69,11.8],[43.85,12.0],[44.01,8.6],[44.17,4.9],[44.33,10.4],[44.49,12.9],[44.64,14.2],[44.8,10.7],[44.96,11.5],[45.12,11.0],[45.28,10.2],[45.43,13.9],[45.59,13.4],[45.75,12.9],[45.91,12.9],[46.07,13.4],[46.22,11.8],[46.38,11.0],[46.54,9.4],[46.7,11.8],[46.85,8.1],[47.01,11.8],[47.17,17.9],[47.33,20.3],[47.48,20.0],[47.64,16.0],[47.8,8.6],[47.96,9.7],[48.04,8.6]]
];
const fluxTicks = [0,0.05,0.10,0.15];
const fluxTickLabels = ["0.00","0.05","0.10","0.15"];
const wsTicks = [5,10,15,20];
const dateTickDays = [0,4,8,12,16,20,24,28,32,36,40,44,48];
const dateTickLabels = ["25/2/19","1/3/19","5/3/19","9/3/19","13/3/19","17/3/19","21/3/19","25/3/19","29/3/19","2/4/19","6/4/19","10/4/19","14/4/19"];

// ---------- axis functions ----------
const xA = d => 172 + d * 35.92;
const ySW = v => 279 - 4.6 * v;
const yATM = v => 244 - 1060 * v;
const xB = d => 172 + d * 36.2;
const ySat = s => 543 - 198 * Math.log10(s / 200);
const yChl = c => 598 - 167.5 * c;
const xC = d => 178 + d * 35.94;
const yFlux = f => 890 - 1366 * f;
const yWS = w => 902 - 12.6 * w;

const NS = "http://www.w3.org/2000/svg";
const root = document.getElementById("dyn");
function mk(tag, attrs, parent) {
  const e = document.createElementNS(NS, tag);
  for (const k in attrs) e.setAttribute(k, attrs[k]);
  (parent || root).appendChild(e);
  return e;
}
function group(name, clip) {
  const g = mk("g", clip ? {"clip-path": "url(#" + clip + ")"} : {});
  
  
  return g;
}
function circles(points, fx, fy, name, clip) {
  const g = group(name, clip);
  for (const p of points) {
    const c = mk("circle", {cx: fx(p[0]).toFixed(1), cy: fy(p[1]).toFixed(1), r: 5.2, fill: "#0000ff"}, g);
    
    
  }
}
function triangles(points, fx, fy, name, clip) {
  const g = group(name, clip);
  for (const p of points) {
    const x = fx(p[0]), y = fy(p[1]);
    const t = mk("polygon", {points: `${x},${y-6.5} ${x+6.5},${y+5} ${x-6.5},${y+5}`, fill: "#ffa500"}, g);
    
    
  }
}
function line(segments, fx, fy, name, clip) {
  const g = group(name, clip);
  for (const seg of segments) {
    const d = seg.map((p, i) => (i ? "L" : "M") + fx(p[0]).toFixed(1) + "," + fy(p[1]).toFixed(1)).join("");
    const l = mk("path", {d: d, fill: "none", stroke: "#000", "stroke-width": 2.6, "stroke-linejoin": "round"}, g);
    
    
  }
}
function smoothPath(pts) {
  let d = "M" + pts[0][0] + "," + pts[0][1];
  for (let i = 0; i < pts.length - 1; i++) {
    const p0 = pts[Math.max(0, i - 1)], p1 = pts[i], p2 = pts[i + 1], p3 = pts[Math.min(pts.length - 1, i + 2)];
    const c1x = p1[0] + (p2[0] - p0[0]) / 6, c1y = p1[1] + (p2[1] - p0[1]) / 6;
    const c2x = p2[0] - (p3[0] - p1[0]) / 6, c2y = p2[1] - (p3[1] - p1[1]) / 6;
    d += `C${c1x.toFixed(1)},${c1y.toFixed(1)} ${c2x.toFixed(1)},${c2y.toFixed(1)} ${p2[0].toFixed(1)},${p2[1].toFixed(1)}`;
  }
  return d;
}
function axLine(x1, y1, x2, y2, name, w) {
  const l = mk("line", {x1, y1, x2, y2, stroke: "#000", "stroke-width": w || 2});
  
  
  return l;
}
function label(x, y, txt, anchor, size, name) {
  const t = mk("text", {x, y, "text-anchor": anchor, "font-size": size, fill: "#000"});
  t.textContent = txt;
  
  
  return t;
}

// ---------- Panel (a) ----------
triangles(atmPoints, xA, yATM, "atm-series", "clipA");
circles(swPoints, xA, ySW, "sw-series", "clipA");
{
  const g = group("interpolated-atm-line", "clipA");
  const pts = interpPoints.map(p => [xA(p[0]), yATM(p[1])]);
  const l = mk("path", {d: smoothPath(pts), fill: "none", stroke: "#c84a14", "stroke-width": 4, "stroke-dasharray": "5,5"}, g);
  
  
}
axLine(166, 32, 166, 286, "y-axis-left-a");
axLine(1902, 32, 1902, 286, "y-axis-right-a");
axLine(166, 285, 1902, 285, "x-axis-a");
for (let d = 0; d <= 48; d += 2) axLine(xA(d), 285, xA(d), 295, "x-tick-a", 1.5);
swTicks.forEach((v, i) => {
  axLine(155, ySW(v), 166, ySW(v), "y-tick-left-a", 1.5);
  if (v === 50) {
    const t = label(150, ySW(v) + 8, "50 x10", "end", 22, "y-tick-label-left-a");
    t.textContent = "50 x10";
    const s = mk("tspan", {"font-size": 15, dy: -10}, t);
    s.textContent = "-3";
    
    
  } else label(150, ySW(v) + 8, String(v), "end", 22, "y-tick-label-left-a");
});
atmTicks.forEach((v, i) => {
  axLine(1902, yATM(v), 1913, yATM(v), "y-tick-right-a", 1.5);
  label(1928, yATM(v) + 8, atmTickLabels[i], "start", 22, "y-tick-label-right-a");
});

// ---------- Panel (b) ----------
circles(satPoints, xB, ySat, "sat-series", "clipB");
triangles(satInterpPoints, xB, ySat, "sat-interp-series", "clipB");
line(chlaSegments, xB, yChl, "chla-line", "clipB");
axLine(166, 333, 166, 605, "y-axis-left-b");
axLine(1916, 333, 1916, 605, "y-axis-right-b");
axLine(166, 604, 1916, 604, "x-axis-b");
for (let d = 0; d <= 48; d += 2) axLine(xB(d), 604, xB(d), 614, "x-tick-b", 1.5);
satMajorTicks.forEach((v, i) => {
  axLine(154, ySat(v), 166, ySat(v), "y-tick-left-b", 1.5);
  const big = satMajorLabels[i] === "1000";
  label(big ? 148 : 158, ySat(v) + (big ? 8 : 6), satMajorLabels[i], "end", big ? 23 : 17, "y-tick-label-left-b");
});
satMinorTicks.forEach((v, i) => {
  axLine(159, ySat(v), 166, ySat(v), "y-minor-tick-left-b", 1.5);
  if (satMinorLabels[i]) label(158, ySat(v) + 6, satMinorLabels[i], "end", 17, "y-tick-label-left-b");
});
chlaTicks.forEach((v, i) => {
  axLine(1916, yChl(v), 1926, yChl(v), "y-tick-right-b", 1.5);
  if (chlaTickLabels[i]) label(1934, yChl(v) + 8, chlaTickLabels[i], "start", 22, "y-tick-label-right-b");
});

// ---------- Panel (c) ----------
circles(fluxPoints, xC, yFlux, "flux-series", "clipC");
triangles(fluxInterpPoints, xC, yFlux, "flux-interp-series", "clipC");
line(wsSegments, xC, yWS, "ws-line", "clipC");
axLine(172, 644, 172, 897, "y-axis-left-c");
axLine(1909, 644, 1909, 897, "y-axis-right-c");
axLine(172, 896, 1909, 896, "x-axis-c");
for (let d = 0; d <= 48; d += 2) axLine(xC(d), 896, xC(d), 906, "x-tick-c", 1.5);
dateTickDays.forEach((d, i) => label(xC(d), 939, dateTickLabels[i], "middle", 22, "x-tick-label"));
fluxTicks.forEach((v, i) => {
  axLine(161, yFlux(v), 172, yFlux(v), "y-tick-left-c", 1.5);
  label(157, yFlux(v) + 8, fluxTickLabels[i], "end", 22, "y-tick-label-left-c");
});
wsTicks.forEach(v => {
  axLine(1909, yWS(v), 1919, yWS(v), "y-tick-right-c", 1.5);
  label(1927, yWS(v) + 8, String(v), "start", 22, "y-tick-label-right-c");
});
</script>
</body></html>
